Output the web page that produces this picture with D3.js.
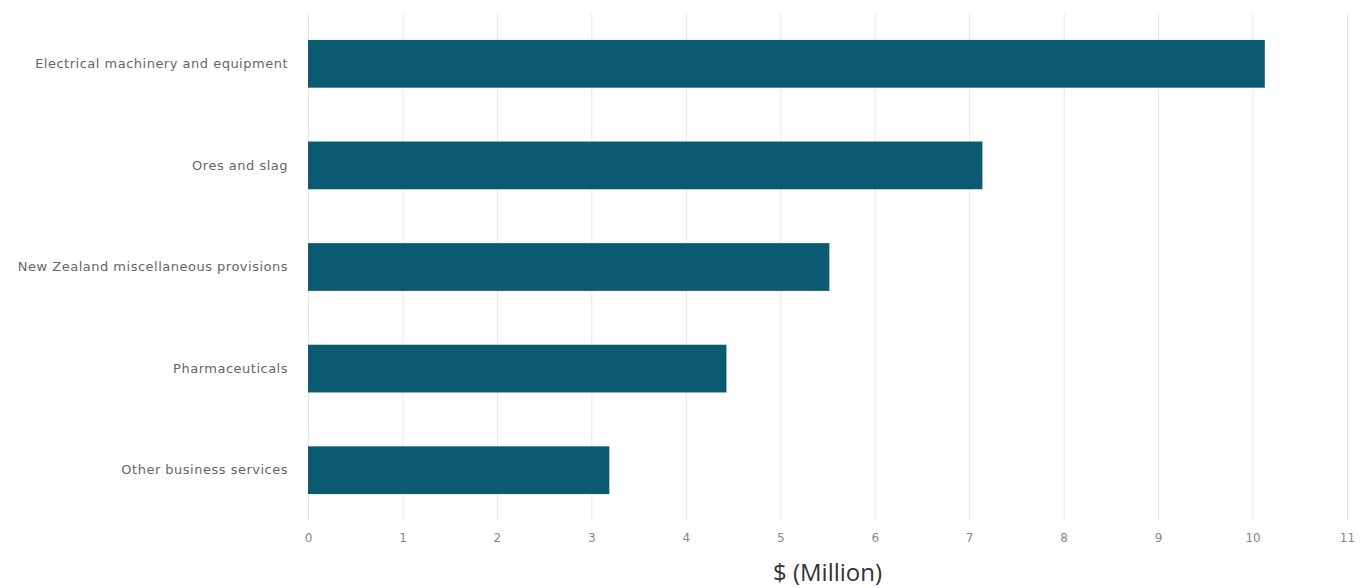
<!DOCTYPE html>
<html>
<head>
<meta charset="utf-8">
<script src="https://cdn.jsdelivr.net/npm/d3@7"></script>
<style>
  body { margin: 0; background: #fff; }
  svg { display: block; }
</style>
</head>
<body>
<script>
const width = 1361;
const height = 588;

// data
const categories = [
  'Electrical machinery and equipment',
  'Ores and slag',
  'New Zealand miscellaneous provisions',
  'Pharmaceuticals',
  'Other business services'
];
const values = [10.13, 7.14, 5.52, 4.43, 3.19];
const xTicks = [0, 1, 2, 3, 4, 5, 6, 7, 8, 9, 10, 11];

const margin = {top: 13, right: 14, bottom: 68, left: 308};

const svg = d3.select('body').append('svg')
  .attr('width', width)
  .attr('height', height);

const x = d3.scaleLinear()
  .domain([0, 11])
  .range([margin.left, width - margin.right]);

const y = d3.scaleBand()
  .domain(categories)
  .range([margin.top, height - margin.bottom + 1])
  .paddingInner(0.53)
  .paddingOuter(0.265);

// vertical grid lines
svg.append('g')
  .selectAll('line')
  .data(xTicks)
  .enter().append('line')
  .attr('x1', d => x(d) + 0.5)
  .attr('x2', d => x(d) + 0.5)
  .attr('y1', margin.top)
  .attr('y2', height - margin.bottom + 1)
  .attr('stroke', '#e8e8e8')
  .attr('stroke-width', 1);

// bars
svg.append('g')
  .selectAll('rect')
  .data(values)
  .enter().append('rect')
  .attr('x', x(0))
  .attr('y', (d, i) => y(categories[i]))
  .attr('width', d => x(d) - x(0))
  .attr('height', y.bandwidth())
  .attr('fill', '#0c5a72');

// x axis labels
const xAxis = d3.axisBottom(x)
  .tickValues(xTicks)
  .tickSize(0)
  .tickPadding(0);

svg.append('g')
  .attr('transform', `translate(0,${height - margin.bottom + 13})`)
  .call(xAxis)
  .call(g => g.select('.domain').remove())
  .call(g => g.selectAll('text')
    .attr('fill', '#888')
    .style('font-family', '"DejaVu Sans", sans-serif')
    .style('font-size', '12px'));

// y axis labels
const yAxis = d3.axisLeft(y).tickSize(0).tickPadding(20);

svg.append('g')
  .attr('transform', `translate(${margin.left},0)`)
  .call(yAxis)
  .call(g => g.select('.domain').remove())
  .call(g => g.selectAll('text')
    .attr('fill', '#666')
    .style('font-family', '"DejaVu Sans", sans-serif')
    .style('font-size', '13px')
    .style('letter-spacing', '0.5px'));

// axis title
svg.append('text')
  .attr('x', (x(0) + x(11)) / 2)
  .attr('y', height - 7)
  .attr('text-anchor', 'middle')
  .attr('fill', '#333')
  .style('font-family', '"Open Sans", sans-serif')
  .style('font-size', '24px')
  .text('$ (Million)');
</script>
</body>
</html>
